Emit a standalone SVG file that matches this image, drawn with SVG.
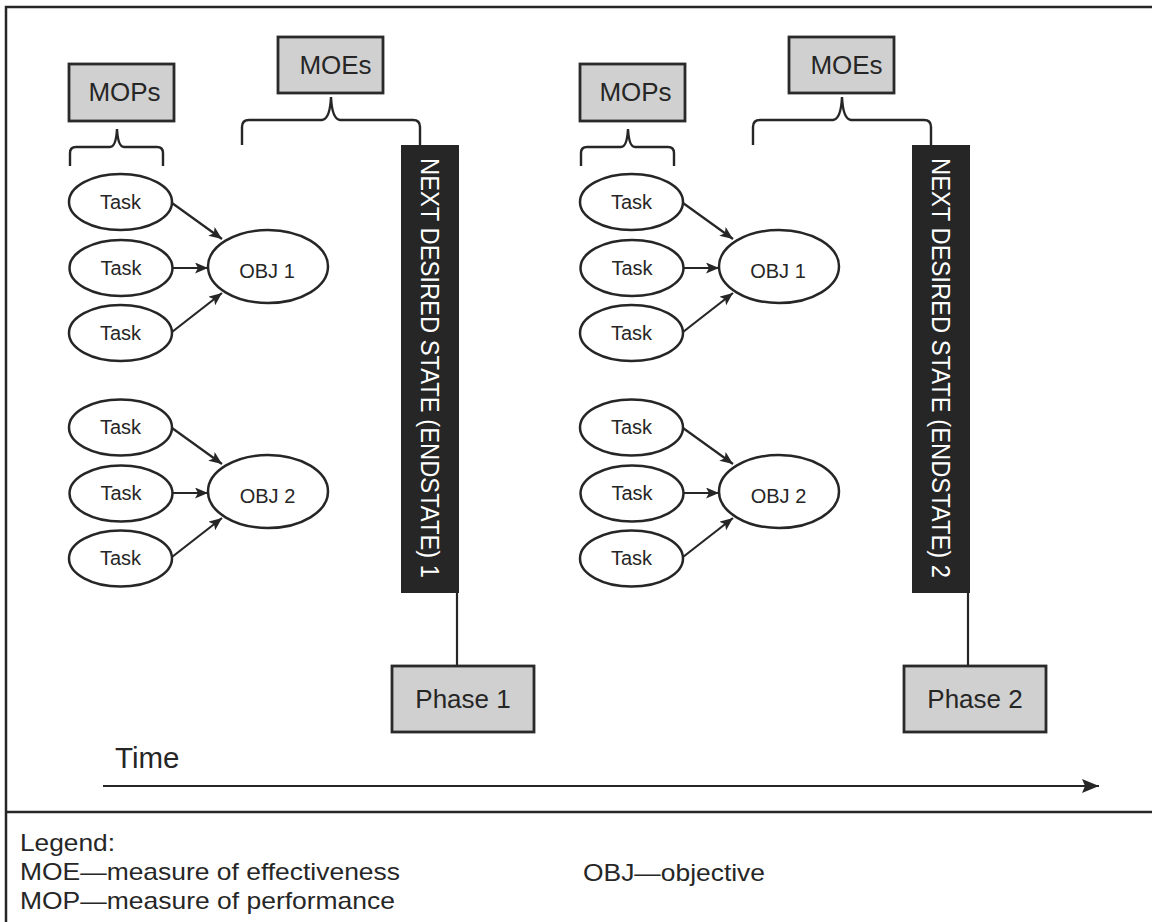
<svg xmlns="http://www.w3.org/2000/svg" width="1152" height="922" viewBox="0 0 1152 922">
<style>
text{font-family:"Liberation Sans",Arial,sans-serif;fill:#262626}
.frame{fill:none;stroke:#262626;stroke-width:2.5}
.box{fill:#d0d0d0;stroke:#2a2a2a;stroke-width:2.8}
.ell{fill:#fff;stroke:#262626;stroke-width:2.5}
.bar{fill:#262626}
.brace{fill:none;stroke:#262626;stroke-width:2.4}
.con{fill:none;stroke:#262626;stroke-width:2.2}
.t20{font-size:20px;text-anchor:middle}
.t26{font-size:26px;text-anchor:middle}
.vt{font-size:25px;fill:#fff}
.lg{font-size:24px}
</style>
<defs>
<marker id="ah" markerUnits="userSpaceOnUse" markerWidth="13" markerHeight="11" refX="13" refY="5.5" orient="auto">
<path d="M0,0 L13,5.5 L0,11 L3,5.5 z" fill="#262626"/>
</marker>
<marker id="ahT" markerUnits="userSpaceOnUse" markerWidth="17" markerHeight="14" refX="17" refY="7" orient="auto">
<path d="M0,0 L17,7 L0,14 L3,7 z" fill="#262626"/>
</marker>
</defs>

<g id="frame">
<path class="frame" d="M1153,7 H6 V923"/>
<line class="frame" x1="6" y1="812" x2="1153" y2="812"/>
</g>

<g id="connectors">
<!-- phase 1 -->
<line class="con" x1="172" y1="203" x2="222" y2="239" marker-end="url(#ah)"/>
<line class="con" x1="173" y1="268" x2="208" y2="268" marker-end="url(#ah)"/>
<line class="con" x1="172" y1="332" x2="222" y2="293" marker-end="url(#ah)"/>
<line class="con" x1="172" y1="428" x2="222" y2="464" marker-end="url(#ah)"/>
<line class="con" x1="173" y1="493" x2="208" y2="493" marker-end="url(#ah)"/>
<line class="con" x1="172" y1="557" x2="222" y2="518" marker-end="url(#ah)"/>
<line class="con" x1="457" y1="592" x2="457" y2="666"/>
<!-- phase 2 -->
<line class="con" x1="683" y1="203" x2="733" y2="239" marker-end="url(#ah)"/>
<line class="con" x1="684" y1="268" x2="719" y2="268" marker-end="url(#ah)"/>
<line class="con" x1="683" y1="332" x2="733" y2="293" marker-end="url(#ah)"/>
<line class="con" x1="683" y1="428" x2="733" y2="464" marker-end="url(#ah)"/>
<line class="con" x1="684" y1="493" x2="719" y2="493" marker-end="url(#ah)"/>
<line class="con" x1="683" y1="557" x2="733" y2="518" marker-end="url(#ah)"/>
<line class="con" x1="968" y1="592" x2="968" y2="666"/>
<!-- braces -->
<path class="brace" d="M70,166 V153 Q70,147 76,147 H110 Q116,147 117,129 Q118,147 124,147 H157 Q163,147 163,153 V166"/>
<path class="brace" d="M242,145 V127 Q242,120 249,120 H322 Q330,119 331,97 Q332,119 340,120 H413 Q420,120 420,127 V146"/>
<path class="brace" d="M581,166 V153 Q581,147 587,147 H621 Q627,147 628,129 Q629,147 635,147 H668 Q674,147 674,153 V166"/>
<path class="brace" d="M753,145 V127 Q753,120 760,120 H833 Q841,119 842,97 Q843,119 851,120 H924 Q931,120 931,127 V146"/>
<!-- time arrow -->
<line class="con" x1="103" y1="786" x2="1099" y2="786" stroke-width="2.6" marker-end="url(#ahT)"/>
</g>

<g id="mops1"><rect class="box" x="69" y="64" width="105" height="57"/><text class="t26" x="124.5" y="101">MOPs</text></g>
<g id="moes1"><rect class="box" x="278" y="37" width="105" height="56"/><text class="t26" x="335.5" y="74">MOEs</text></g>
<g id="task1a"><ellipse class="ell" cx="120.5" cy="202" rx="51.5" ry="28"/><text class="t20" x="120.5" y="208.5">Task</text></g>
<g id="task1b"><ellipse class="ell" cx="121" cy="268" rx="51.5" ry="28"/><text class="t20" x="121" y="274.5">Task</text></g>
<g id="task1c"><ellipse class="ell" cx="120.5" cy="333" rx="51.5" ry="28"/><text class="t20" x="120.5" y="339.5">Task</text></g>
<g id="obj1"><ellipse class="ell" cx="268" cy="266.5" rx="60" ry="36.5"/><text class="t20" x="267" y="277.5">OBJ 1</text></g>
<g id="task1d"><ellipse class="ell" cx="120.5" cy="427.5" rx="51.5" ry="28"/><text class="t20" x="120.5" y="434">Task</text></g>
<g id="task1e"><ellipse class="ell" cx="121" cy="493.5" rx="51.5" ry="28"/><text class="t20" x="121" y="500">Task</text></g>
<g id="task1f"><ellipse class="ell" cx="120.5" cy="558.5" rx="51.5" ry="28"/><text class="t20" x="120.5" y="565">Task</text></g>
<g id="obj2"><ellipse class="ell" cx="268" cy="491.5" rx="60" ry="36.5"/><text class="t20" x="267.5" y="502.5">OBJ 2</text></g>
<g id="endstate1"><rect class="bar" x="401" y="145" width="58" height="448"/><text class="vt" transform="translate(421,158) rotate(90)" textLength="420" lengthAdjust="spacingAndGlyphs">NEXT DESIRED STATE (ENDSTATE) 1</text></g>
<g id="phase1"><rect class="box" x="392" y="666" width="142" height="66"/><text class="t26" x="463" y="708">Phase 1</text></g>

<g id="mops2"><rect class="box" x="580" y="64" width="105" height="57"/><text class="t26" x="635.5" y="101">MOPs</text></g>
<g id="moes2"><rect class="box" x="789" y="37" width="105" height="56"/><text class="t26" x="846.5" y="74">MOEs</text></g>
<g id="task2a"><ellipse class="ell" cx="631.5" cy="202" rx="51.5" ry="28"/><text class="t20" x="631.5" y="208.5">Task</text></g>
<g id="task2b"><ellipse class="ell" cx="632" cy="268" rx="51.5" ry="28"/><text class="t20" x="632" y="274.5">Task</text></g>
<g id="task2c"><ellipse class="ell" cx="631.5" cy="333" rx="51.5" ry="28"/><text class="t20" x="631.5" y="339.5">Task</text></g>
<g id="obj1b"><ellipse class="ell" cx="779" cy="266.5" rx="60" ry="36.5"/><text class="t20" x="778" y="277.5">OBJ 1</text></g>
<g id="task2d"><ellipse class="ell" cx="631.5" cy="427.5" rx="51.5" ry="28"/><text class="t20" x="631.5" y="434">Task</text></g>
<g id="task2e"><ellipse class="ell" cx="632" cy="493.5" rx="51.5" ry="28"/><text class="t20" x="632" y="500">Task</text></g>
<g id="task2f"><ellipse class="ell" cx="631.5" cy="558.5" rx="51.5" ry="28"/><text class="t20" x="631.5" y="565">Task</text></g>
<g id="obj2b"><ellipse class="ell" cx="779" cy="491.5" rx="60" ry="36.5"/><text class="t20" x="778.5" y="502.5">OBJ 2</text></g>
<g id="endstate2"><rect class="bar" x="912" y="145" width="58" height="448"/><text class="vt" transform="translate(932,158) rotate(90)" textLength="420" lengthAdjust="spacingAndGlyphs">NEXT DESIRED STATE (ENDSTATE) 2</text></g>
<g id="phase2"><rect class="box" x="904" y="666" width="142" height="66"/><text class="t26" x="975" y="708">Phase 2</text></g>

<g id="time"><text x="115" y="768" style="font-size:29.5px">Time</text></g>

<g id="legend">
<text class="lg" x="20" y="851" textLength="95" lengthAdjust="spacingAndGlyphs">Legend:</text>
<text class="lg" x="20" y="880" textLength="380" lengthAdjust="spacingAndGlyphs">MOE—measure of effectiveness</text>
<text class="lg" x="20" y="909" textLength="375" lengthAdjust="spacingAndGlyphs">MOP—measure of performance</text>
<text class="lg" x="583" y="881" textLength="182" lengthAdjust="spacingAndGlyphs">OBJ—objective</text>
</g>
</svg>
